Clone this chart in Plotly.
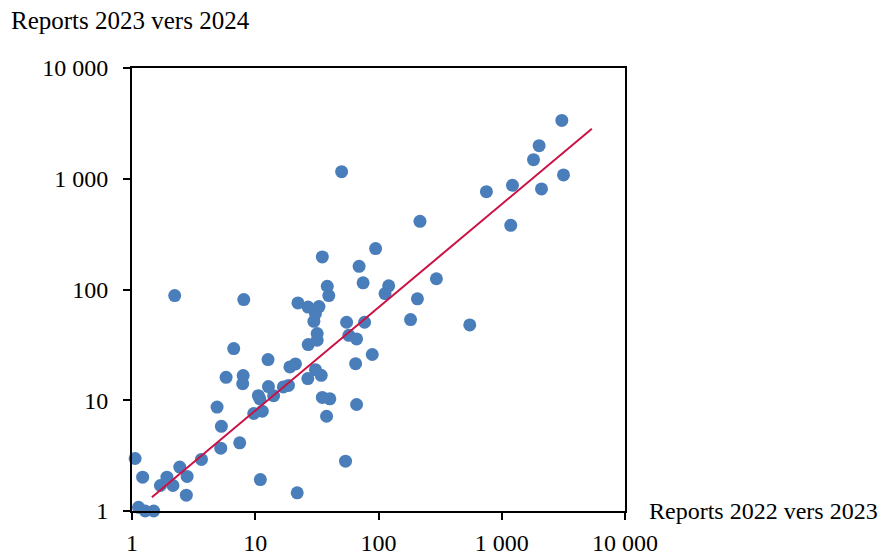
import plotly.graph_objects as go

# Reports 2022 vers 2023 (x) and Reports 2023 vers 2024 (y)
reports_2022_23 = [1.06, 1.22, 1.13, 1.28, 1.50, 1.70, 1.92, 2.15, 2.44, 2.80,
                   2.76, 3.66, 4.90, 5.31, 5.25, 7.48, 11.0, 9.72, 11.4, 10.6,
                   10.9, 12.8, 14.1, 16.9, 18.6, 21.9, 5.80, 7.98, 7.91, 8.07,
                   6.69, 12.7, 2.22, 19.1, 21.2, 26.7, 30.8, 34.3, 35.0, 40.3,
                   37.9, 66.4, 65.2, 89.0, 55.1, 57.5, 66.4, 77.1, 26.9, 31.8,
                   31.8, 22.2, 26.8, 32.9, 30.8, 29.9, 38.4, 39.5, 75.0, 69.6,
                   217, 35.0, 94.7, 121, 113, 207, 182, 295, 550, 3072,
                   2010, 1810, 3170, 2101, 1222, 751, 1183, 50.2, 54.0]
reports_2023_24 = [2.98, 2.02, 1.08, 1.0, 1.0, 1.70, 2.02, 1.70, 2.49, 2.05,
                   1.39, 2.92, 8.68, 5.82, 3.69, 4.13, 1.92, 7.59, 7.96, 11.0,
                   10.3, 13.3, 11.0, 13.2, 13.6, 1.46, 16.1, 16.7, 14.1, 81.1,
                   29.3, 23.3, 88.1, 20.0, 21.3, 15.7, 18.9, 16.8, 10.6, 10.3,
                   7.17, 9.15, 21.4, 25.9, 50.6, 38.6, 35.8, 50.6, 31.8, 34.8,
                   40.0, 75.7, 69.4, 70.1, 60.6, 51.6, 107, 88.1, 115, 162,
                   413, 197, 234, 108, 91.8, 82.3, 53.5, 125, 47.9, 3365,
                   1990, 1487, 1082, 809, 872, 765, 380, 1159, 2.82]

# Trend line end points
trend_x = [1.45, 5383]
trend_y = [1.33, 2832]

tick_vals = [1, 10, 100, 1000, 10000]
tick_text = ["1", "10", "100", "1 000", "10 000"]

x_title = "Reports 2022 vers 2023"
y_title = "Reports 2023 vers 2024"

FONT = "Liberation Serif"

fig = go.Figure()
fig.add_trace(go.Scatter(
    x=reports_2022_23, y=reports_2023_24, mode="markers",
    marker=dict(size=13, color="#4A7EBB", line=dict(width=0)),
    cliponaxis=False, showlegend=False,
))
fig.add_trace(go.Scatter(
    x=trend_x, y=trend_y, mode="lines",
    line=dict(color="#CC1144", width=2),
    showlegend=False,
))

axis_common = dict(
    type="log", showgrid=False, zeroline=False, automargin=False,
    showline=True, linecolor="black", linewidth=2, mirror=True,
    ticks="outside", ticklen=7, tickwidth=2, tickcolor="black",
    tickvals=tick_vals, ticktext=tick_text,
    tickfont=dict(family=FONT, size=24, color="black"),
)
fig.update_xaxes(range=[0, 4], ticklabelstandoff=2, **axis_common)
fig.update_yaxes(range=[0, 4], ticklabelstandoff=10, **axis_common)

fig.add_annotation(text=x_title, xref="paper", yref="paper", x=1, y=0,
                   xshift=22, xanchor="left", yanchor="middle", showarrow=False,
                   font=dict(family=FONT, size=24, color="black"))
fig.add_annotation(text=y_title, xref="paper", yref="paper", x=0, y=1,
                   xshift=-123, yshift=48, xanchor="left", yanchor="middle",
                   showarrow=False,
                   font=dict(family=FONT, size=25, color="black"))

fig.update_layout(
    width=883, height=552,
    margin=dict(l=124, r=266, t=60, b=49),
    paper_bgcolor="white", plot_bgcolor="white",
    font=dict(family=FONT, size=24, color="black"),
)

fig.write_html("out.html")
